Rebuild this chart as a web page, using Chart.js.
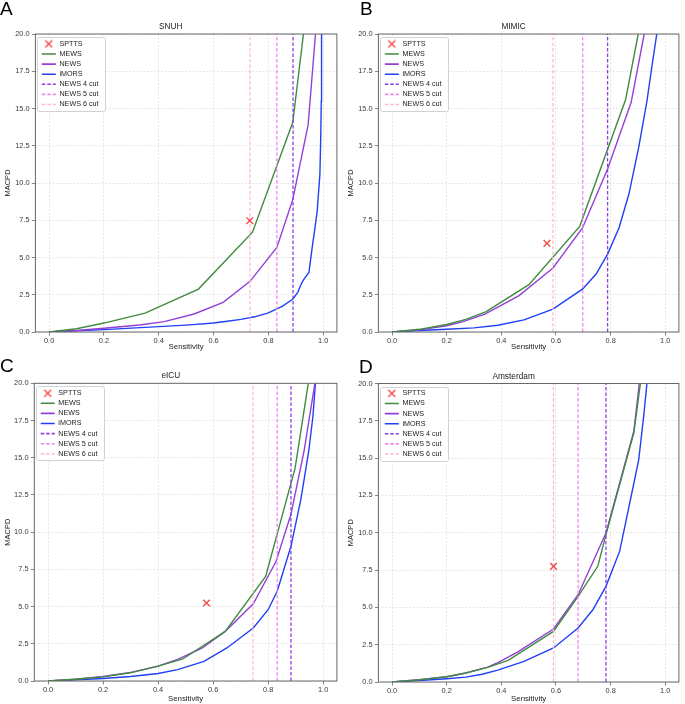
<!DOCTYPE html>
<html>
<head>
<meta charset="utf-8">
<script src="https://cdn.jsdelivr.net/npm/chart.js@4.4.1/dist/chart.umd.min.js"></script>
<style>
body { margin: 0; background: #fff; width: 685px; height: 704px; position: relative; overflow: hidden;
       font-family: "Liberation Sans", Arial, sans-serif; }
.panel { position: absolute; }
.tag { position: absolute; font-size: 19px; line-height: 1; color: #000; }
</style>
</head>
<body>
<div class="panel" style="left:0;top:0"><canvas id="chartA" width="343" height="352"></canvas></div>
<div class="panel" style="left:343px;top:0"><canvas id="chartB" width="342" height="352"></canvas></div>
<div class="panel" style="left:0;top:352px"><canvas id="chartC" width="343" height="352"></canvas></div>
<div class="panel" style="left:343px;top:352px"><canvas id="chartD" width="342" height="352"></canvas></div>
<div class="tag" style="left:0;top:-1px">A</div>
<div class="tag" style="left:360px;top:-1px">B</div>
<div class="tag" style="left:0;top:356px">C</div>
<div class="tag" style="left:359px;top:357px">D</div>
<script>
// labels
var panelTitles = ['SNUH', 'MIMIC', 'eICU', 'Amsterdam'];
var seriesNames = ['SPTTS', 'MEWS', 'NEWS', 'iMORS'];
var cutNames = ['NEWS 4 cut', 'NEWS 5 cut', 'NEWS 6 cut'];
var xTickValues = [0, 0.2, 0.4, 0.6, 0.8, 1.0];
var yTickValues = [0, 2.5, 5, 7.5, 10, 12.5, 15, 17.5, 20];
var xRange = [-0.05, 1.05];
var yRange = [0, 20];

// SNUH  [sensitivity, MACPD]
var snuhSPTTS = [0.732, 7.47];
var snuhMEWS = [[0, 0], [0.1, 0.22], [0.2, 0.6], [0.35, 1.27], [0.545, 2.88], [0.742, 6.7], [0.889, 14.07], [0.928, 20]];
var snuhNEWS = [[0, 0], [0.1, 0.1], [0.2, 0.25], [0.33, 0.47], [0.42, 0.7], [0.529, 1.21], [0.635, 1.99], [0.733, 3.4],
                [0.831, 5.68], [0.889, 8.88], [0.945, 13.9], [0.972, 20]];
var snuhIMORS = [[0, 0], [0.1, 0.08], [0.2, 0.16], [0.3, 0.26], [0.4, 0.36], [0.5, 0.46], [0.6, 0.6], [0.65, 0.72],
                 [0.7, 0.85], [0.75, 1.02], [0.8, 1.28], [0.85, 1.72], [0.889, 2.2], [0.907, 2.66], [0.922, 3.3],
                 [0.93, 3.55], [0.948, 4.0], [0.96, 5.7], [0.97, 7.0], [0.978, 8.1], [0.988, 10.6], [0.991, 13],
                 [0.993, 15.5], [0.994, 20]];
var snuhCuts = [0.890, 0.831, 0.733];

// MIMIC
var mimicSPTTS = [0.567, 5.95];
var mimicMEWS = [[0, 0], [0.1, 0.18], [0.2, 0.5], [0.27, 0.85], [0.343, 1.35], [0.501, 3.18], [0.687, 7.09], [0.855, 15.6], [0.901, 20]];
var mimicNEWS = [[0, 0], [0.1, 0.14], [0.2, 0.42], [0.26, 0.7], [0.34, 1.2], [0.465, 2.44], [0.589, 4.3], [0.697, 6.98],
                 [0.789, 10.94], [0.875, 15.4], [0.923, 20]];
var mimicIMORS = [[0, 0], [0.1, 0.1], [0.2, 0.18], [0.3, 0.28], [0.387, 0.45], [0.483, 0.81], [0.589, 1.54], [0.698, 2.89],
                  [0.747, 3.89], [0.789, 5.23], [0.831, 7.0], [0.867, 9.26], [0.903, 12.4], [0.933, 15.5], [0.951, 17.8], [0.969, 20]];
var mimicCuts = [0.789, 0.698, 0.589];

// eICU
var eicuSPTTS = [0.576, 5.24];
var eicuMEWS = [[0, 0], [0.1, 0.12], [0.2, 0.28], [0.3, 0.55], [0.4, 1.0], [0.49, 1.48], [0.644, 3.33], [0.791, 7.03], [0.898, 14.3], [0.946, 20]];
var eicuNEWS = [[0, 0], [0.1, 0.12], [0.2, 0.3], [0.3, 0.58], [0.4, 1.0], [0.471, 1.45], [0.561, 2.22], [0.644, 3.33],
                [0.746, 5.19], [0.829, 8.04], [0.883, 11.2], [0.931, 15.5], [0.97, 20]];
var eicuIMORS = [[0, 0], [0.1, 0.08], [0.2, 0.17], [0.3, 0.3], [0.4, 0.5], [0.471, 0.76], [0.567, 1.32], [0.65, 2.22],
                 [0.746, 3.56], [0.8, 4.79], [0.833, 6.03], [0.883, 9.05], [0.919, 12.2], [0.948, 15.5], [0.963, 17.8], [0.972, 20]];
var eicuCuts = [0.883, 0.833, 0.745];

// Amsterdam
var amsSPTTS = [0.591, 7.75];
var amsMEWS = [[0, 0], [0.1, 0.15], [0.2, 0.35], [0.27, 0.6], [0.35, 0.98], [0.425, 1.45], [0.591, 3.39], [0.681, 5.74],
               [0.753, 7.75], [0.783, 9.87], [0.885, 16.7], [0.909, 20]];
var amsNEWS = [[0, 0], [0.1, 0.15], [0.2, 0.35], [0.27, 0.6], [0.35, 1.0], [0.387, 1.3], [0.459, 2.0], [0.591, 3.55],
               [0.681, 5.85], [0.783, 9.98], [0.885, 16.8], [0.905, 20]];
var amsIMORS = [[0, 0], [0.1, 0.1], [0.2, 0.22], [0.27, 0.33], [0.33, 0.52], [0.387, 0.8], [0.483, 1.38], [0.591, 2.28],
                [0.681, 3.62], [0.735, 4.84], [0.783, 6.41], [0.807, 7.53], [0.833, 8.75], [0.861, 11.2], [0.885, 13.3],
                [0.903, 14.9], [0.921, 17.8], [0.933, 20]];
var amsCuts = [0.783, 0.681, 0.591];

var colors = {
    spt: 'rgba(240, 40, 40, 0.85)',
    mews: '#3f8c3f',
    news: '#9340d8',
    imors: '#2040f5',
    cuts: ['#8a3fe6', '#ee88ee', '#ffbcc8']
};

var FONT = '"Liberation Sans", Arial, sans-serif';
var LEGEND_SIZE = 7.2;
var LEGEND_PAD = 2.9;
var LEGEND_MARK = 14;

Chart.defaults.font.family = FONT;
Chart.defaults.color = '#333';

// little "x" for the legend entry of the scatter point
var xIcon = document.createElement('canvas');
xIcon.width = 9;
xIcon.height = 9;
var xc = xIcon.getContext('2d');
xc.strokeStyle = colors.spt;
xc.lineWidth = 1.4;
xc.beginPath();
xc.moveTo(1, 1); xc.lineTo(8, 8);
xc.moveTo(8, 1); xc.lineTo(1, 8);
xc.stroke();

var mplLook = {
    id: 'mplLook',
    afterLayout: function (chart) {
        var lg = chart.legend, ca = chart.chartArea;
        if (!lg) return;
        lg.left = ca.left + 3.5;
        lg.top = ca.top + 3.4;
        lg.right = lg.left + lg.width;
        lg.bottom = lg.top + lg.height;
    },
    afterDatasetsDraw: function (chart) {
        var lg = chart.legend, ctx = chart.ctx;
        var n = chart.data.datasets.length;
        ctx.save();
        ctx.font = LEGEND_SIZE + 'px ' + FONT;
        var tw = 0;
        chart.data.datasets.forEach(function (ds) {
            tw = Math.max(tw, ctx.measureText(ds.label).width);
        });
        var x0 = lg.left + LEGEND_PAD - 5;
        var y0 = lg.top + LEGEND_PAD - 3.2;
        var x1 = lg.left + LEGEND_PAD + LEGEND_MARK + LEGEND_SIZE / 2 + tw + 6;
        var y1 = lg.top + LEGEND_PAD + n * (LEGEND_SIZE + LEGEND_PAD) - LEGEND_PAD + 3.2;
        ctx.beginPath();
        ctx.roundRect(Math.round(x0) + 0.5, Math.round(y0) + 0.5, Math.round(x1 - x0), Math.round(y1 - y0), 2);
        ctx.fillStyle = '#fff';
        ctx.fill();
        ctx.strokeStyle = '#d2d2d2';
        ctx.lineWidth = 1;
        ctx.stroke();
        ctx.restore();
        lg.draw();
    },
    afterDraw: function (chart) {
        var ca = chart.chartArea, ctx = chart.ctx;
        ctx.save();
        ctx.strokeStyle = '#666';
        ctx.lineWidth = 1;
        ctx.strokeRect(ca.left, ca.top, ca.right - ca.left, ca.bottom - ca.top);
        ctx.restore();
    }
};

function pts(arr) {
    return arr.map(function (p) { return {x: p[0], y: p[1]}; });
}

function curve(label, arr, color) {
    return {
        label: label, data: pts(arr), showLine: true, borderColor: color, backgroundColor: color,
        borderWidth: 1.4, pointRadius: 0, tension: 0, fill: false, order: 2
    };
}

function makeChart(id, title, spt, mews, news, imors, cuts, g) {
    var datasets = [
        {label: seriesNames[0], data: [{x: spt[0], y: spt[1]}], showLine: false, pointStyle: 'crossRot',
         pointRadius: 4.7, borderColor: colors.spt, backgroundColor: colors.spt, borderWidth: 1.4, order: 0},
        curve(seriesNames[1], mews, colors.mews),
        curve(seriesNames[2], news, colors.news),
        curve(seriesNames[3], imors, colors.imors)
    ];
    cuts.forEach(function (c, k) {
        datasets.push({
            label: cutNames[k], data: yRange.map(function (y) { return {x: c, y: y}; }),
            showLine: true, borderColor: colors.cuts[k], backgroundColor: colors.cuts[k],
            borderDash: [3.5, 2], borderWidth: 1.3, pointRadius: 0, order: 1
        });
    });

    var canvas = document.getElementById(id);
    var W = canvas.width, H = canvas.height;
    var titleH = 8.3 * 1.2 + 2.2;

    return new Chart(canvas.getContext('2d'), {
        type: 'scatter',
        data: {datasets: datasets},
        options: {
            responsive: false,
            animation: false,
            devicePixelRatio: 1,
            layout: {padding: {top: g.t - titleH, right: W - g.r, bottom: 0, left: 0}},
            plugins: {
                tooltip: {enabled: false},
                title: {
                    display: true, text: title, color: '#222',
                    font: {size: 8.3, weight: 'normal'}, padding: {top: 0, bottom: 2.2}
                },
                legend: {
                    position: 'chartArea',
                    align: 'start',
                    labels: {
                        usePointStyle: true,
                        pointStyleWidth: LEGEND_MARK,
                        boxHeight: LEGEND_SIZE,
                        padding: LEGEND_PAD,
                        color: '#222',
                        font: {size: LEGEND_SIZE},
                        generateLabels: function (chart) {
                            return chart.data.datasets.map(function (ds, i) {
                                return {
                                    text: ds.label,
                                    fillStyle: ds.borderColor,
                                    strokeStyle: ds.borderColor,
                                    lineWidth: i === 0 ? 1.4 : 1.6,
                                    lineDash: ds.borderDash || [],
                                    pointStyle: i === 0 ? xIcon : 'line',
                                    hidden: false,
                                    datasetIndex: i,
                                    fontColor: '#222'
                                };
                            });
                        }
                    }
                }
            },
            scales: {
                x: {
                    type: 'linear', min: xRange[0], max: xRange[1],
                    afterBuildTicks: function (s) { s.ticks = xTickValues.map(function (v) { return {value: v}; }); },
                    afterFit: function (s) { s.height = H - g.b; },
                    ticks: {
                        color: '#3a3a3a', font: {size: 7.4}, padding: 1, maxRotation: 0,
                        callback: function (v) { return Number(v).toFixed(1); }
                    },
                    grid: {color: 'rgba(150,150,150,0.3)', lineWidth: 0.8, tickLength: 3.5, tickColor: '#666', tickWidth: 0.8},
                    border: {display: false, dash: [2, 1.5]},
                    title: {display: true, text: 'Sensitivity', color: '#222', font: {size: 7.8}, padding: {top: 0, bottom: 0.3}}
                },
                y: {
                    type: 'linear', min: yRange[0], max: yRange[1],
                    afterBuildTicks: function (s) { s.ticks = yTickValues.map(function (v) { return {value: v}; }); },
                    afterFit: function (s) { s.width = g.l; },
                    ticks: {
                        color: '#3a3a3a', font: {size: 7.4}, padding: 2.3,
                        callback: function (v) { return Number(v).toFixed(1); }
                    },
                    grid: {color: 'rgba(150,150,150,0.3)', lineWidth: 0.8, tickLength: 3.5, tickColor: '#666', tickWidth: 0.8},
                    border: {display: false, dash: [2, 1.5]},
                    title: {display: true, text: 'MACPD', color: '#222', font: {size: 7.5}, padding: {top: 3.5, bottom: 0}}
                }
            }
        },
        plugins: [mplLook]
    });
}

makeChart('chartA', panelTitles[0], snuhSPTTS, snuhMEWS, snuhNEWS, snuhIMORS, snuhCuts, {l: 35.4, r: 341.6, t: 34, b: 332});
makeChart('chartB', panelTitles[1], mimicSPTTS, mimicMEWS, mimicNEWS, mimicIMORS, mimicCuts, {l: 35.4, r: 341.2, t: 34, b: 332});
makeChart('chartC', panelTitles[2], eicuSPTTS, eicuMEWS, eicuNEWS, eicuIMORS, eicuCuts, {l: 34.3, r: 341.7, t: 31.3, b: 329});
makeChart('chartD', panelTitles[3], amsSPTTS, amsMEWS, amsNEWS, amsIMORS, amsCuts, {l: 35.4, r: 341.2, t: 31.5, b: 330});
</script>
</body>
</html>
